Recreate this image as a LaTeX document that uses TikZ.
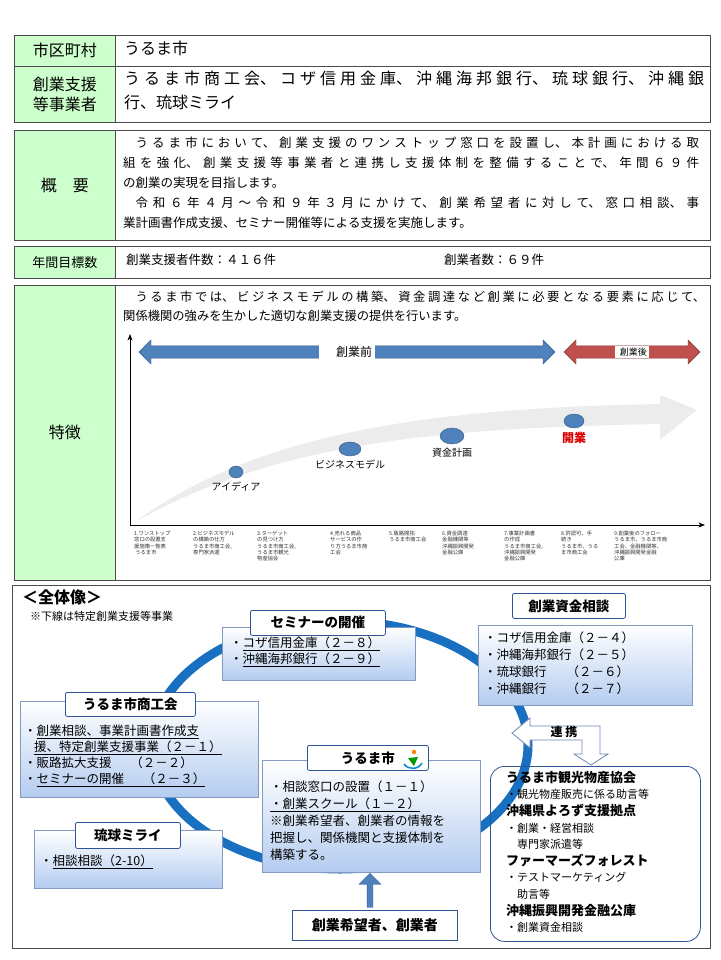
\documentclass[tikz,border=0pt]{standalone}
\usepackage{fontspec}
\setmainfont{Noto Sans CJK JP}
\XeTeXlinebreaklocale "ja"
\XeTeXlinebreakskip=0pt plus 5pt
\usetikzlibrary{arrows.meta, positioning, shapes.arrows, shapes.geometric, calc}
\definecolor{cellGreen}{RGB}{204, 255, 204}
\definecolor{ringBlue}{RGB}{26, 112, 192}
\definecolor{barBlue}{RGB}{79, 129, 189}
\definecolor{barRed}{RGB}{192, 80, 77}
\definecolor{boxBlue}{RGB}{180, 204, 240}
\definecolor{lineBlue}{RGB}{47, 85, 151}
\tikzset{
    % Table Styles
    cell/.style={draw=black!70, thick, anchor=north west, inner sep=0pt},
    headCell/.style={cell, fill=cellGreen, align=center, font=\fontsize{16}{20}\selectfont},
    bodyText/.style={anchor=north west, align=left, inner sep=0pt},
    fullText/.style={anchor=north west, align=justify, inner sep=0pt},
    % Chart Styles
    dot/.style={ellipse, fill=barBlue, draw=barBlue!70!black, inner sep=0pt},
    stageLabel/.style={font=\fontsize{10}{11}\selectfont},
    tinyLabel/.style={anchor=north west, align=left, inner sep=0pt, font=\fontsize{5.3}{6.2}\selectfont, text=black!80},
    % Diagram Styles
    panel/.style={draw=lineBlue!60, anchor=north west, top color=white, bottom color=boxBlue},
    title/.style={draw=lineBlue, thick, fill=white, rounded corners=2pt, font=\bfseries\fontsize{13.5}{15}\selectfont, anchor=north west, inner sep=0pt},
    itemText/.style={anchor=north west, align=left, inner sep=0pt, font=\fontsize{12.5}{16}\selectfont}
}
\begin{document}
\begin{tikzpicture}[x=1pt, y=-1pt]
    \useasboundingbox (0,0) rectangle (720,960);

    % --- TOP TABLE ---
    \node (cityHead) [headCell, minimum width=101pt, minimum height=31pt] at (14,35) {市区町村};
    \node (city) [cell, minimum width=595pt, minimum height=31pt] at (115,35) {};
    \node [bodyText, font=\fontsize{16}{19}\selectfont] at (124,41) {うるま市};

    \node (orgHead) [headCell, minimum width=101pt, minimum height=56pt] at (14,66) {創業支援\\等事業者};
    \node (org) [cell, minimum width=595pt, minimum height=56pt] at (115,66) {};
    \node [fullText, font=\fontsize{16}{24}\selectfont, text width=580pt] at (124,71)
        {うるま市商工会、コザ信用金庫、沖縄海邦銀行、琉球銀行、沖縄銀\linebreak 行、琉球ミライ};

    \node (sumHead) [headCell, minimum width=101pt, minimum height=110pt] at (14,130) {概　要};
    \node (sum) [cell, minimum width=595pt, minimum height=110pt] at (115,130) {};
    \node [fullText, font=\fontsize{12.5}{20}\selectfont, text width=576pt] at (123,137)
        {\hspace*{1em}うるま市において、創業支援のワンストップ窓口を設置し、本計画における取\linebreak
        組を強化、創業支援等事業者と連携し支援体制を整備することで、年間６９件\linebreak
        の創業の実現を目指します。\par
        \hspace*{1em}令和６年４月～令和９年３月にかけて、創業希望者に対して、窓口相談、事\linebreak
        業計画書作成支援、セミナー開催等による支援を実施します。};

    \node (goalHead) [headCell, minimum width=101pt, minimum height=32pt, font=\fontsize{13}{15}\selectfont] at (14,246) {年間目標数};
    \node (goal) [cell, minimum width=595pt, minimum height=32pt] at (115,246) {};
    \node [bodyText, font=\fontsize{12.5}{14}\selectfont] at (126,254) {創業支援者件数：４１６件};
    \node [bodyText, font=\fontsize{12.5}{14}\selectfont] at (444,254) {創業者数：６９件};

    \node (featHead) [headCell, minimum width=101pt, minimum height=295pt] at (14,285) {特徴};
    \node (feat) [cell, minimum width=595pt, minimum height=295pt] at (115,285) {};
    \node [fullText, font=\fontsize{12.3}{19}\selectfont, text width=582pt] at (123,291)
        {\hspace*{1em}うるま市では、ビジネスモデルの構築、資金調達など創業に必要となる要素に応じて、\linebreak 関係機関の強みを生かした適切な創業支援の提供を行います。};

    % --- Chart ---
    \fill [gray!15] (135,522) .. controls (280,440) and (450,428) .. (660,424)
        -- (660,440) -- (697,410) -- (660,395) -- (660,404)
        .. controls (440,408) and (260,430) .. (135,522) -- cycle;
    \draw [thick, -{Stealth}] (130,525) -- (130,334);
    \draw [thick, -{Stealth}] (130,525) -- (705,525);
    \node (before) [double arrow, fill=barBlue, draw=barBlue!70!black, minimum width=24pt, double arrow head extend=3pt, minimum height=416pt, inner sep=3pt] at (347,352) {};
    \node [fill=white, inner sep=3pt, font=\fontsize{12}{13}\selectfont] at (before) {\hspace{1.2em}創業前\hspace{1.2em}};
    \node (after) [double arrow, fill=barRed, draw=barRed!70!black, minimum width=24pt, double arrow head extend=3pt, minimum height=136pt, inner sep=3pt] at (632,352) {};
    \node [fill=white, inner sep=2pt, font=\fontsize{9}{10}\selectfont] at (after) {\hspace{0.3em}創業後\hspace{0.3em}};

    \node (idea) [dot, minimum width=14pt, minimum height=12pt] at (236,472) {};
    \node (model) [dot, minimum width=22pt, minimum height=14pt] at (350,449) {};
    \node (fund) [dot, minimum width=24pt, minimum height=16pt] at (452,436) {};
    \node (open) [dot, minimum width=20pt, minimum height=14pt] at (574,421) {};
    \node [stageLabel, below=0pt of idea] {アイディア};
    \node [stageLabel, below=0pt of model] {ビジネスモデル};
    \node [stageLabel, below=0pt of fund] {資金計画};
    \node [stageLabel, below=0pt of open, font=\bfseries\fontsize{12}{13}\selectfont, text=red!85!black] {開業};

    \node [tinyLabel] at (134,531) {1.ワンストップ\\窓口の設置支\\援施策一覧表\\\ うるま市};
    \node [tinyLabel] at (193,531) {2.ビジネスモデル\\の構築の仕方\\うるま市商工会,\\専門家派遣};
    \node [tinyLabel] at (257,531) {3.ターゲット\\の見つけ方\\うるま市商工会,\\うるま市観光\\物産協会};
    \node [tinyLabel] at (330,531) {4.売れる商品\\サービスの作\\り方うるま市商\\工会};
    \node [tinyLabel] at (389,531) {5.販路開拓\\うるま市商工会};
    \node [tinyLabel] at (442,531) {6.資金調達\\金融機関等\\沖縄振興開発\\金融公庫};
    \node [tinyLabel] at (504,531) {7.事業計画書\\の作成\\うるま市商工会,\\沖縄振興開発\\金融公庫};
    \node [tinyLabel] at (561,531) {8.許認可、手\\続き\\うるま市、うる\\ま市商工会};
    \node [tinyLabel] at (614,531) {9.創業後のフォロー\\うるま市、うるま市商\\工会、金融機関等、\\沖縄振興開発金融\\公庫};

    % --- BOTTOM DIAGRAM ---
    \draw [thick, black!70] (12,585) rectangle (710,948);
    \node [bodyText, font=\bfseries\fontsize{16}{18}\selectfont] at (22,590) {＜全体像＞};
    \node [bodyText, font=\fontsize{11}{13}\selectfont] at (30,611) {※下線は特定創業支援等事業};

    % ring
    \draw [ringBlue, line width=9pt] (340,745) ellipse (188pt and 124pt);

    \node (seminar) [panel, minimum width=193pt, minimum height=53pt] at (222,627) {};
    \node (seminarT) [title, minimum width=135pt, minimum height=25pt] at (250,610) {セミナーの開催};
    \node [itemText] at (230,637) {・\underline{コザ信用金庫（２－８）}\\・\underline{沖縄海邦銀行（２－９）}};

    \node (fundPanel) [panel, minimum width=214pt, minimum height=80pt] at (478,625) {};
    \node (fundT) [title, minimum width=113pt, minimum height=25pt] at (512,593) {創業資金相談};
    \node [itemText, font=\fontsize{12.5}{17}\selectfont] at (484,632) {・コザ信用金庫（２－４）\\・沖縄海邦銀行（２－５）\\・琉球銀行\hspace{1.6em}（２－６）\\・沖縄銀行\hspace{1.6em}（２－７）};

    \node (chamber) [panel, minimum width=238pt, minimum height=96pt] at (20,701) {};
    \node (chamberT) [title, minimum width=130pt, minimum height=24pt] at (65,692) {うるま市商工会};
    \node [itemText] at (24,725) {・\underline{創業相談、事業計画書作成支}\\\hspace*{0.8em}\underline{援、特定創業支援事業（２－１）}\\・販路拡大支援\hspace{1.5em}（２－２）\\・\underline{セミナーの開催\hspace{1.5em}（２－３）}};

    \node (mirai) [panel, minimum width=188pt, minimum height=58pt] at (34,830) {};
    \node (miraiT) [title, minimum width=105pt, minimum height=26pt] at (75,822) {琉球ミライ};
    \node [itemText] at (40,855) {・\underline{相談相談（2-10）}};

    \node (cityPanel) [panel, minimum width=218pt, minimum height=112pt] at (262,760) {};
    \node (cityT) [title, minimum width=121pt, minimum height=25pt] at (307,745) {うるま市\hspace{2em}};
    \fill [orange] (414,752) circle (2.2pt);
    \fill [green!60!black] (408,758) -- (418,757) -- (414,766) -- cycle;
    \draw [cyan!70!blue, line width=1.6pt] (404,764) .. controls (408,770) and (418,770) .. (422,763);
    \node [itemText, font=\fontsize{12.5}{17}\selectfont] at (270,781) {・相談窓口の設置（１－１）\\\underline{・創業スクール（１－２）}\\※創業希望者、創業者の情報を\\把握し、関係機関と支援体制を\\構築する。};

    \node (seeker) [draw=lineBlue, thick, fill=white, anchor=north west, minimum width=165pt, minimum height=30pt, inner sep=0pt, font=\bfseries\fontsize{14}{16}\selectfont] at (292,910) {創業希望者、創業者};
    \node (upArrow) [single arrow, shape border rotate=90, fill=barBlue, draw=lineBlue, minimum width=22pt, single arrow head extend=6pt, minimum height=34pt, inner sep=2pt, anchor=tip] at (370,873) {};

    % cooperation arrow
    \draw [lineBlue!70, thick, fill=white] (512,733) -- (530,718) -- (530,726) -- (600,726)
        -- (600,754) -- (608,754) -- (591,765) -- (574,754) -- (582,754) -- (582,740)
        -- (530,740) -- (530,748) -- cycle;
    \node (coop) [font=\bfseries\fontsize{12}{13}\selectfont] at (564,732) {連 携};

    \node (partners) [draw=lineBlue, thick, rounded corners=14pt, anchor=north west, minimum width=210pt, minimum height=175pt] at (490,766) {};
    \node [itemText, font=\fontsize{11}{16.6}\selectfont] at (506,771)
        {\textbf{\fontsize{13}{16.6}\selectfont うるま市観光物産協会}\\
        ・観光物産販売に係る助言等\\
        \textbf{\fontsize{13}{16.6}\selectfont 沖縄県よろず支援拠点}\\
        ・創業・経営相談\\
        \hspace*{1em}専門家派遣等\\
        \textbf{\fontsize{13}{16.6}\selectfont ファーマーズフォレスト}\\
        ・テストマーケティング\\
        \hspace*{1em}助言等\\
        \textbf{\fontsize{13}{16.6}\selectfont 沖縄振興開発金融公庫}\\
        ・創業資金相談};
\end{tikzpicture}
\end{document}
